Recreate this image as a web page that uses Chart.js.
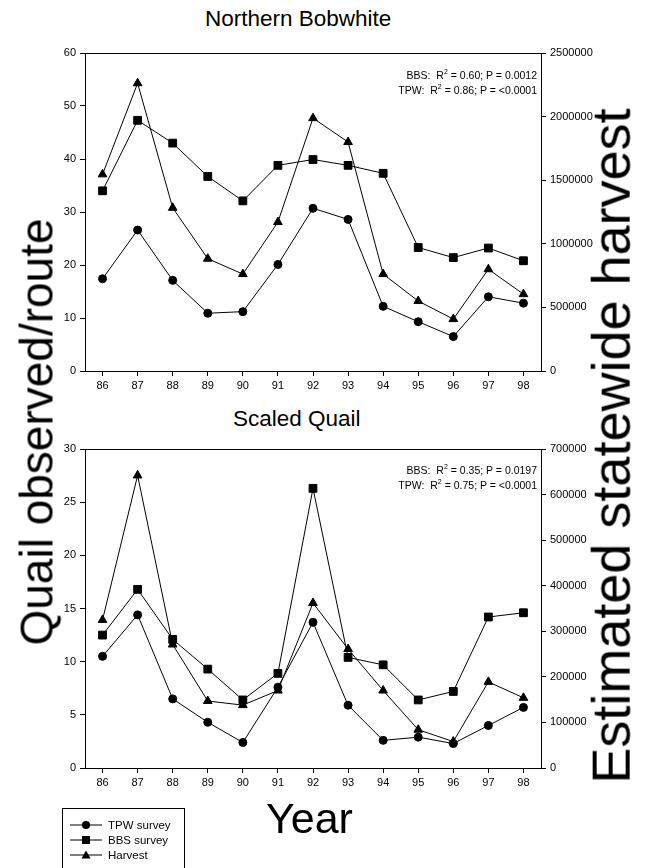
<!DOCTYPE html>
<html>
<head>
<meta charset="utf-8">
<script src="https://cdn.jsdelivr.net/npm/chart.js@4.4.1/dist/chart.umd.min.js"></script>
<style>
  body { margin: 0; background: #fff; font-family: "Liberation Sans", Arial, sans-serif; color: #000; }
  #wrap { position: relative; width: 653px; height: 868px; overflow: hidden; }
  .cv { position: absolute; left: 0; }
  .title { position: absolute; font-size: 22.5px; white-space: nowrap; }
  .stat { position: absolute; font-size: 10.5px; text-align: right; line-height: 12.5px; white-space: nowrap; }
  .stat sup { font-size: 7px; }
  .ytitle { position: absolute; white-space: nowrap; transform-origin: center; }
  #legend { position: absolute; left: 62px; top: 808px; width: 121px; height: 70px; border: 1px solid #000; font-size: 11.5px; }
  #legend div { height: 15px; display: flex; align-items: center; }
  #legend svg { margin-left: 7px; margin-right: 6px; }
</style>
</head>
<body>
<div id="wrap">
  <div class="title" style="left:205px; top:6px;">Northern Bobwhite</div>
  <div class="title" style="left:233px; top:406px;">Scaled Quail</div>
  <canvas id="top" class="cv" style="top:0" width="653" height="400"></canvas>
  <canvas id="bottom" class="cv" style="top:400px" width="653" height="400"></canvas>
  <div class="stat" style="right:116px; top:66px;">BBS:&nbsp; R<sup>2</sup> = 0.60; P = 0.0012<br>TPW:&nbsp; R<sup>2</sup> = 0.86; P = &lt;0.0001</div>
  <div class="stat" style="right:116px; top:461px;">BBS:&nbsp; R<sup>2</sup> = 0.35; P = 0.0197<br>TPW:&nbsp; R<sup>2</sup> = 0.75; P = &lt;0.0001</div>
  <div class="ytitle" id="ylTitle" style="font-size:46px;">Quail observed/route</div>
  <div class="ytitle" id="yrTitle" style="font-size:54px;">Estimated statewide harvest</div>
  <div style="position:absolute; left:266px; top:794px; font-size:43px;">Year</div>
  <div id="legend">
    <div style="margin-top:8px"><svg width="32" height="10"><line x1="0" y1="5" x2="32" y2="5" stroke="#000"/><circle cx="16" cy="5" r="4"/></svg>TPW survey</div>
    <div><svg width="32" height="10"><line x1="0" y1="5" x2="32" y2="5" stroke="#000"/><rect x="12" y="1" width="8" height="8"/></svg>BBS survey</div>
    <div><svg width="32" height="10"><line x1="0" y1="5" x2="32" y2="5" stroke="#000"/><polygon points="16,0.5 20.5,8.5 11.5,8.5"/></svg>Harvest</div>
  </div>
</div>
<script>
const years = ["86","87","88","89","90","91","92","93","94","95","96","97","98"];

// Northern Bobwhite
const tpwBobwhite = [17.4, 26.6, 17.1, 10.9, 11.2, 20.1, 30.7, 28.6, 12.2, 9.3, 6.5, 14.0, 12.8];
const bbsBobwhite = [34.0, 47.3, 43.0, 36.7, 32.1, 38.8, 39.9, 38.8, 37.3, 23.3, 21.4, 23.2, 20.8];
const harvestBobwhite = [1546000, 2262000, 1283000, 883000, 762000, 1171000, 1988000, 1800000, 762000, 550000, 408000, 800000, 604000];

// Scaled Quail
const tpwScaled = [10.5, 14.4, 6.5, 4.3, 2.4, 7.6, 13.7, 5.9, 2.6, 2.9, 2.3, 4.0, 5.7];
const bbsScaled = [12.5, 16.8, 12.1, 9.3, 6.4, 8.9, 26.3, 10.4, 9.7, 6.4, 7.2, 14.2, 14.6];
const harvestScaled = [325000, 642000, 271000, 147000, 138000, 170000, 362000, 261000, 170000, 84000, 58000, 189000, 154000];

const tickFont = { family: "Liberation Sans, Arial, sans-serif", size: 11 };

const frame = {
  id: 'frame',
  afterDraw(chart) {
    const a = chart.chartArea, ctx = chart.ctx;
    ctx.save();
    ctx.strokeStyle = '#000';
    ctx.lineWidth = 1;
    ctx.beginPath();
    ctx.moveTo(a.left, a.top + 0.5);
    ctx.lineTo(a.right, a.top + 0.5);
    ctx.stroke();
    ctx.restore();
  }
};

function series(label, data, style, radius, axis) {
  return {
    label: label, data: data, yAxisID: axis,
    borderColor: '#000', borderWidth: 1,
    pointStyle: style, pointRadius: radius,
    pointBackgroundColor: '#000', pointBorderColor: '#000',
    tension: 0, fill: false
  };
}

function yAxis(pos, w, max, step) {
  return {
    position: pos, min: 0, max: max,
    grid: { drawOnChartArea: false, color: '#000', tickLength: 5 },
    border: { color: '#000' },
    ticks: { color: '#000', font: tickFont, padding: 4, stepSize: step, callback: v => String(v) },
    afterFit(s) { s.width = w; }
  };
}

function makeChart(id, tpw, bbs, harvest, leftMax, leftStep, rightMax, rightStep, padTop, xHeight) {
  return new Chart(document.getElementById(id), {
    type: 'line',
    data: {
      labels: years,
      datasets: [
        series('TPW survey', tpw, 'circle', 4, 'y'),
        series('BBS survey', bbs, 'rect', 5.5, 'y'),
        series('Harvest', harvest, 'triangle', 5, 'y1')
      ]
    },
    options: {
      responsive: false,
      animation: false,
      layout: { padding: { top: padTop, left: 0, right: 0, bottom: 0 } },
      plugins: { legend: { display: false }, tooltip: { enabled: false } },
      scales: {
        x: {
          offset: true,
          grid: { drawOnChartArea: false, color: '#000', tickLength: 5, offset: false },
          border: { color: '#000' },
          ticks: { color: '#000', font: tickFont, padding: 3, maxRotation: 0 },
          afterFit(s) { s.height = xHeight; }
        },
        y: yAxis('left', 85, leftMax, leftStep),
        y1: yAxis('right', 112, rightMax, rightStep)
      }
    },
    plugins: [frame]
  });
}

makeChart('top', tpwBobwhite, bbsBobwhite, harvestBobwhite, 60, 10, 2500000, 500000, 53, 29);
makeChart('bottom', tpwScaled, bbsScaled, harvestScaled, 30, 5, 700000, 100000, 49, 32);

// rotate the big axis titles about their centres
function placeRotated(el, cx, cy) {
  const w = el.offsetWidth, h = el.offsetHeight;
  el.style.left = (cx - w / 2) + 'px';
  el.style.top = (cy - h / 2) + 'px';
  el.style.transform = 'rotate(-90deg)';
}
placeRotated(document.getElementById('ylTitle'), 36, 432);
placeRotated(document.getElementById('yrTitle'), 610, 446);
</script>
</body>
</html>
